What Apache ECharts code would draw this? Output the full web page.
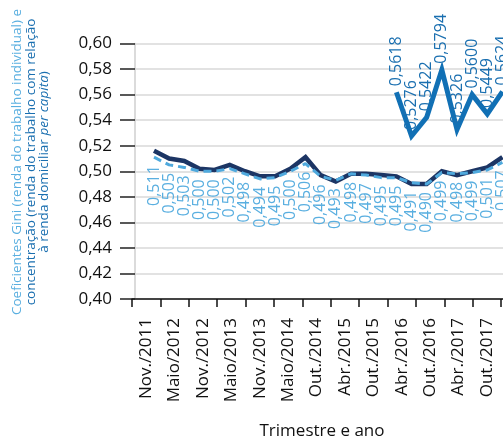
<!DOCTYPE html>
<html><head><meta charset="utf-8">
<script src="https://cdn.jsdelivr.net/npm/echarts@6/dist/echarts.min.js"></script>
<style>html,body{margin:0;padding:0;background:#fff}#c{width:503px;height:441px}</style>
</head><body><div id="c"></div>
<script>
// Tick labels of the horizontal axis (trimestre e ano)
const tickLabels = ['Nov./2011','Maio/2012','Nov./2012','Maio/2013','Nov./2013','Maio/2014','Out./2014','Abr./2015','Out./2015','Abr./2016','Out./2016','Abr./2017','Out./2017',''];
// Observation points (hidden data axis)
const points = ['1','2','3','4','5','6','7','8','9','10','11','12','13','14','15','16','17','18','19','20','21','22','23','24'];
// Gini – renda do trabalho individual (light blue, dashed, labelled)
const giniIndividual = [0.511,0.505,0.503,0.500,0.500,0.502,0.498,0.494,0.495,0.500,0.506,0.496,0.493,0.498,0.497,0.495,0.495,0.491,0.490,0.499,0.498,0.499,0.501,0.507];
// Gini – renda domiciliar per capita (dark navy, unlabelled)
const giniDomiciliar = [0.516,0.510,0.508,0.502,0.501,0.505,0.500,0.496,0.496,0.502,0.511,0.497,0.492,0.498,0.498,0.497,0.496,0.490,0.490,0.500,0.497,0.500,0.503,0.511];
// Concentração (renda do trabalho com relação à renda domiciliar per capita)
const concentracao = [null,null,null,null,null,null,null,null,null,null,null,null,null,null,null,null,0.5618,0.5276,0.5422,0.5794,0.5326,0.5600,0.5449,0.5624];
const yMin = 0.40, yMax = 0.60, yStep = 0.02;

const FONT = 'Open Sans';
const comma = (v, d) => v.toFixed(d).replace('.', ',');
const chart = echarts.init(document.getElementById('c'), null, {renderer:'canvas'});
const gTop = 43.5, gBottom = 142;
const hidden = {color:'rgba(0,0,0,0)'};
chart.setOption({
  animation:false,
  textStyle:{fontFamily:FONT},
  grid:[
    {left:135, right:-20, top:gTop, bottom:gBottom, outerBoundsMode:'none', containLabel:false},
    {left:132, width:14*28.4, top:gTop, bottom:gBottom, outerBoundsMode:'none', containLabel:false},
    {left:154, width:23*15.15, top:gTop, bottom:gBottom, outerBoundsMode:'none', containLabel:false}
  ],
  xAxis:[
    {gridIndex:0, type:'category', data:points, show:false},
    {gridIndex:1, type:'category', data:tickLabels, boundaryGap:true,
     axisLine:{lineStyle:{color:'#111', width:1.5}},
     axisTick:{show:true, interval:0, length:8, lineStyle:{color:'#111', width:1.5}},
     axisLabel:{interval:0, rotate:90, margin:19, fontSize:17, color:'#111', fontFamily:FONT},
     splitLine:{show:false}},
    {gridIndex:2, type:'category', data:points, boundaryGap:false, show:false}
  ],
  yAxis:[
    {gridIndex:0, type:'value', min:yMin, max:yMax, interval:yStep,
     axisLine:{show:true, lineStyle:{color:'#cfcfcf', width:1.5}},
     axisTick:{show:true, length:15, lineStyle:{color:'#222', width:1.5}},
     axisLabel:{margin:23, fontSize:17, color:'#111', fontFamily:FONT, formatter:v=>comma(v,2)},
     splitLine:{show:true, lineStyle:{color:'#d9d9d9', width:1.5}}},
    {gridIndex:1, type:'value', min:yMin, max:yMax, show:false, splitLine:{show:false}},
    {gridIndex:2, type:'value', min:yMin, max:yMax, show:false, splitLine:{show:false}}
  ],
  graphic:[
    {type:'text', x:31, y:162, rotation:Math.PI/2,
     style:{
       text:'{a|Coeficientes Gini (renda do trabalho individual) e}\n{b|concentração (renda do trabalho com relação}\n{b|à renda domiciliar }{i|per capita}{b|)}',
       align:'center', verticalAlign:'middle', fontFamily:FONT, fontSize:13.5,
       rich:{
         a:{fill:'#5aafe0', fontSize:13.5, fontFamily:FONT, lineHeight:13.5},
         b:{fill:'#1a6fb0', fontSize:13.5, fontFamily:FONT, lineHeight:13.5},
         i:{fill:'#1a6fb0', fontSize:13.5, fontFamily:FONT, fontStyle:'italic', lineHeight:13.5}
       }
     }},
    {type:'text', x:322, y:431, style:{text:'Trimestre e ano', align:'center', verticalAlign:'middle', fontFamily:FONT, fontSize:17, fill:'#111'}}
  ],
  series:[
    {name:'Gini (renda domiciliar per capita)', type:'line', xAxisIndex:2, yAxisIndex:2, data:giniDomiciliar,
     symbol:'none', z:2, lineStyle:{color:'#1c3564', width:4.5, join:'miter'}},
    {name:'Gini (renda do trabalho individual)', type:'line', xAxisIndex:2, yAxisIndex:2, data:giniIndividual,
     symbol:'circle', symbolSize:2, showSymbol:true, itemStyle:hidden, z:3, lineStyle:{color:'#4fa9dd', width:3, type:[8,5]},
     label:{show:true, position:'bottom', distance:7, rotate:90, align:'right', verticalAlign:'middle',
            color:'#5aafe0', fontSize:16, fontFamily:FONT, formatter:p=>comma(p.value,3)}},
    {name:'Concentração', type:'line', xAxisIndex:2, yAxisIndex:2, data:concentracao,
     symbol:'circle', symbolSize:2, showSymbol:true, itemStyle:hidden, z:4, lineStyle:{color:'#1170b5', width:5, join:'miter', miterLimit:10},
     label:{show:true, position:'top', distance:5, rotate:90, align:'left', verticalAlign:'middle',
            color:'#1a6fb0', fontSize:16, fontFamily:FONT, formatter:p=>p.value==null?'':comma(p.value,4)}}
  ]
});
</script></body></html>
